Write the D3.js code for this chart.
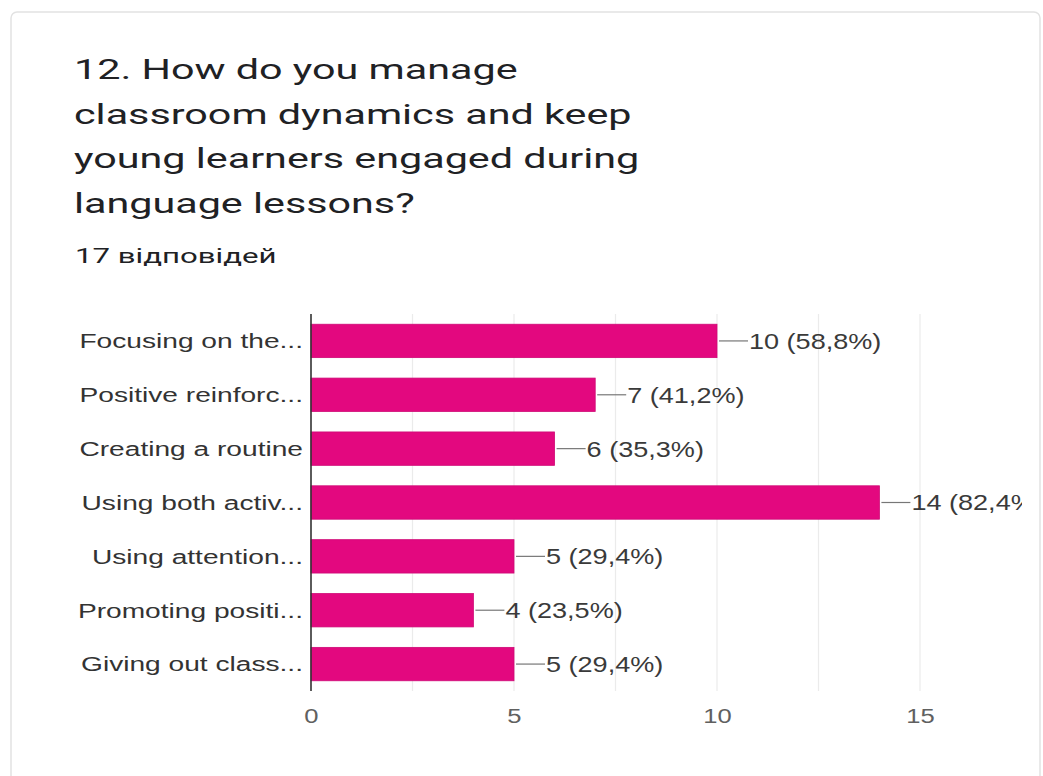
<!DOCTYPE html>
<html>
<head>
<meta charset="utf-8">
<script src="https://cdn.jsdelivr.net/npm/d3@7"></script>
<style>
  html, body { margin: 0; padding: 0; background: #fff; }
  svg { display: block; }
</style>
</head>
<body>
<svg id="chart" width="1043" height="776"></svg>
<script>
// Survey question and response count
const titleLines = [
  "12. How do you manage",
  "classroom dynamics and keep",
  "young learners engaged during",
  "language lessons?"
];
const responsesLabel = "17 відповідей";

// Answer options (truncated as displayed) and counts
const categories = [
  "Focusing on the...",
  "Positive reinforc...",
  "Creating a routine",
  "Using both activ...",
  "Using attention...",
  "Promoting positi...",
  "Giving out class..."
];
const counts = [10, 7, 6, 14, 5, 4, 5];
const percents = ["58,8%", "41,2%", "35,3%", "82,4%", "29,4%", "23,5%", "29,4%"];

// Axis
const tickValues = [0, 5, 10, 15];
const gridValues = [2.5, 5, 7.5, 10, 12.5, 15];

// The text in this layout is set in a wide face; emulate it with a horizontal stretch
const wide = (x, y, sx) => `translate(${x},${y}) scale(${sx},1)`;

const svg = d3.select("#chart");

// Card frame
svg.append("rect")
  .attr("x", 11).attr("y", 12)
  .attr("width", 1029).attr("height", 800)
  .attr("rx", 6)
  .attr("fill", "#fff")
  .attr("stroke", "#e2e2e2")
  .attr("stroke-width", 1.5);

// Title
const title = svg.append("g")
  .attr("font-family", "Roboto, 'Noto Sans', sans-serif")
  .attr("fill", "#202124");
title.selectAll("text")
  .data(titleLines)
  .join("text")
  .attr("transform", (d, i) => wide(74, 79 + i * 44.7, 1.475))
  .attr("font-size", 28)
  .text(d => d);

title.append("text")
  .attr("transform", wide(75, 262.5, 1.56))
  .attr("font-size", 20)
  .text(responsesLabel);

// Plot area
const x = d3.scaleLinear().domain([0, 15]).range([311, 920]);
const y = d3.scaleBand().domain(categories).range([314, 691]).paddingInner(0.38).paddingOuter(0.19);

svg.append("defs").append("clipPath").attr("id", "plotClip")
  .append("rect").attr("x", 0).attr("y", 0).attr("width", 1022).attr("height", 776);

// Vertical gridlines
svg.append("g")
  .selectAll("line")
  .data(gridValues)
  .join("line")
  .attr("x1", d => x(d)).attr("x2", d => x(d))
  .attr("y1", 314).attr("y2", 691)
  .attr("stroke", "#ebebeb")
  .attr("stroke-width", 1.2);

// Bars
svg.append("g")
  .selectAll("rect")
  .data(counts)
  .join("rect")
  .attr("x", x(0))
  .attr("y", (d, i) => y(categories[i]))
  .attr("width", d => x(d) - x(0))
  .attr("height", y.bandwidth())
  .attr("fill", "#e3087f")
  .attr("stroke", "#cf0a76")
  .attr("stroke-width", 0.8);

// Baseline
svg.append("line")
  .attr("x1", x(0)).attr("x2", x(0))
  .attr("y1", 314).attr("y2", 691)
  .attr("stroke", "#333")
  .attr("stroke-width", 1.6);

// Category labels
svg.append("g")
  .attr("font-family", "'Liberation Sans', Arial, sans-serif")
  .attr("font-size", 21)
  .attr("fill", "#333")
  .selectAll("text")
  .data(categories)
  .join("text")
  .attr("transform", d => wide(x(0) - 8, y(d) + y.bandwidth() / 2, 1.34))
  .attr("dy", "0.35em")
  .attr("text-anchor", "end")
  .text(d => d);

// Value annotations with leader lines
const ann = svg.append("g").attr("clip-path", "url(#plotClip)");
ann.selectAll("line")
  .data(counts)
  .join("line")
  .attr("x1", d => x(d) + 2)
  .attr("x2", d => x(d) + 31)
  .attr("y1", (d, i) => y(categories[i]) + y.bandwidth() / 2)
  .attr("y2", (d, i) => y(categories[i]) + y.bandwidth() / 2)
  .attr("stroke", "#777")
  .attr("stroke-width", 1.2);
ann.selectAll("text")
  .data(counts)
  .join("text")
  .attr("transform", (d, i) => wide(x(d) + 32, y(categories[i]) + y.bandwidth() / 2, 1.23))
  .attr("dy", "0.36em")
  .attr("font-family", "'Liberation Sans', Arial, sans-serif")
  .attr("font-size", 22)
  .attr("fill", "#3a3a3a")
  .text((d, i) => `${d} (${percents[i]})`);

// X axis tick labels
const axis = svg.append("g")
  .attr("transform", "translate(0,691)")
  .call(d3.axisBottom(x).tickValues(tickValues).tickSize(0).tickPadding(17));
axis.select(".domain").remove();
axis.selectAll(".tick text")
  .attr("font-family", "'Liberation Sans', Arial, sans-serif")
  .attr("font-size", 21)
  .attr("fill", "#606060")
  .attr("transform", "scale(1.22,1)");
</script>
</body>
</html>
